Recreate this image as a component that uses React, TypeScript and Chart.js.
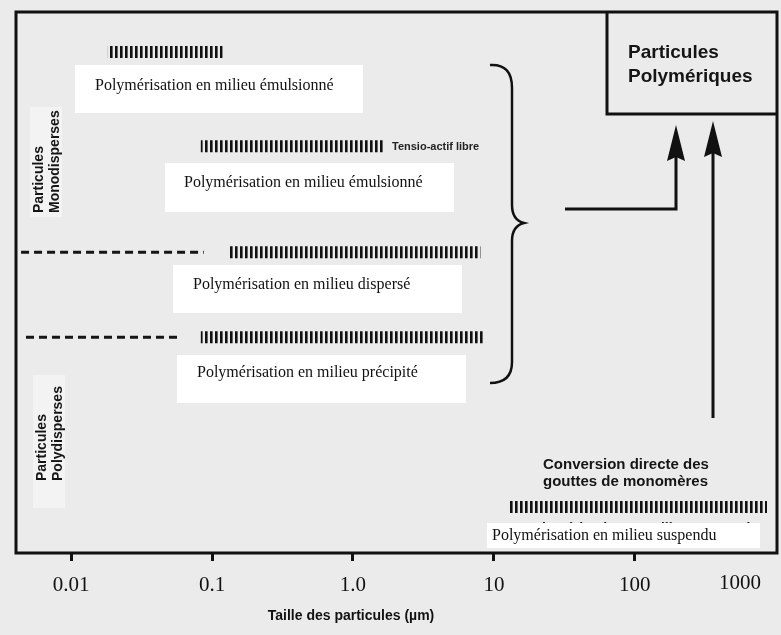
import { useEffect, useRef } from "react";
import { Chart, registerables } from "chart.js";

Chart.register(...registerables);

// ---- data ----
const SIZE_TICKS = [0.01, 0.1, 1, 10, 100];
const TICK_LABELS = ["0.01", "0.1", "1.0", "10", "100"];
const EXTRA_TICK_LABEL = "1000";
const AXIS_TITLE = "Taille des particules (µm)";

const METHODS = [
  "Polymérisation en milieu émulsionné",
  "Polymérisation en milieu émulsionné",
  "Polymérisation en milieu dispersé",
  "Polymérisation en milieu précipité",
  "Polymérisation en milieu suspendu",
];
// vertical level of each row (0 = bottom, 10 = top)
const ROW_LEVELS = [9.26, 7.52, 5.56, 3.99, 0.85];
// size ranges (µm), hatched bars
const RANGE_MIN = [0.0182, 0.0832, 0.133, 0.0832, 12.7];
const RANGE_MAX = [0.119, 1.65, 8.02, 8.43, 867];
// possible extension (dashed) for dispersé / précipité
const EXT_LEVELS = [5.56, 3.99];
const EXT_MIN = [0.00441, 0.00478];
const EXT_MAX = [0.0873, 0.06];

const X_MIN = 0.00406;
const X_MAX = 1021;

export default function App() {
  const ref = useRef<HTMLCanvasElement | null>(null);

  useEffect(() => {
    const canvas = ref.current;
    if (!canvas) return;

    const pc = document.createElement("canvas");
    pc.width = 5;
    pc.height = 4;
    const pctx = pc.getContext("2d")!;
    pctx.fillStyle = "#111";
    pctx.fillRect(0, 0, 2, 4);
    pctx.fillStyle = "rgba(17,17,17,0.6)";
    pctx.fillRect(2, 0, 1, 4);
    const hatch = canvas.getContext("2d")!.createPattern(pc, "repeat")!;

    const datasets: any[] = [];
    ROW_LEVELS.forEach((lv, i) => {
      datasets.push({
        label: METHODS[i],
        data: [
          { x: RANGE_MIN[i], y: lv },
          { x: RANGE_MAX[i], y: lv },
        ],
        showLine: true,
        borderColor: hatch,
        borderWidth: 12,
        borderCapStyle: "butt",
        pointRadius: 0,
      });
    });
    EXT_LEVELS.forEach((lv, i) => {
      datasets.push({
        label: "ext" + i,
        data: [
          { x: EXT_MIN[i], y: lv },
          { x: EXT_MAX[i], y: lv },
        ],
        showLine: true,
        borderColor: "#151515",
        borderWidth: 3,
        borderDash: [8, 5],
        borderCapStyle: "butt",
        pointRadius: 0,
      });
    });

    const SERIF = '"Liberation Serif", "Times New Roman", serif';
    const SANS = '"Liberation Sans", Arial, sans-serif';
    const TICK_PAD = 12;
    const TICK_LEN = 8;

    const decor = {
      id: "decor",
      beforeDraw(chart: any) {
        const ctx = chart.ctx;
        ctx.save();
        ctx.fillStyle = "#ebebeb";
        ctx.fillRect(0, 0, chart.width, chart.height);
        ctx.fillStyle = "#f3f3f3";
        ctx.fillRect(30, 107, 32, 110);
        ctx.fillRect(33, 375, 32, 133);
        ctx.restore();
      },
      afterDraw(chart: any) {
        const ctx = chart.ctx;
        const a = chart.chartArea;
        ctx.save();
        // ghost label partially hidden by the box
        ctx.fillStyle = "#222";
        ctx.font = `bold 14px ${SANS}`;
        ctx.textBaseline = "top";
        ctx.textAlign = "left";
        ctx.fillText("Polymérisation en milieu suspendu", 524, 522);

        // white boxes with method names
        const boxes = [
          [75, 65, 288, 48, 95, 86],
          [165, 163, 289, 49, 184, 183],
          [173, 265, 289, 48, 193, 285],
          [177, 355, 289, 48, 197, 373],
          [487, 523, 273, 25, 492, 536],
        ];
        boxes.forEach((b, i) => {
          ctx.fillStyle = "#ffffff";
          ctx.fillRect(b[0], b[1], b[2], b[3]);
          ctx.fillStyle = "#111";
          ctx.font = `16px ${SERIF}`;
          ctx.textBaseline = "middle";
          ctx.fillText(METHODS[i], b[4], b[5]);
        });

        // Tensio-actif libre
        ctx.font = `bold 11px ${SANS}`;
        ctx.fillStyle = "#222";
        ctx.fillText("Tensio-actif libre", 392, 147);

        // plot frame
        ctx.strokeStyle = "#111";
        ctx.lineWidth = 3;
        ctx.strokeRect(a.left, a.top, a.right - a.left, a.bottom - a.top);

        // Particules Polymériques box
        ctx.beginPath();
        ctx.moveTo(607, a.top);
        ctx.lineTo(607, 114);
        ctx.lineTo(a.right, 114);
        ctx.stroke();
        ctx.fillStyle = "#151515";
        ctx.font = `bold 19px ${SANS}`;
        ctx.fillText("Particules", 628, 53);
        ctx.fillText("Polymériques", 628, 77);

        // brace
        ctx.lineWidth = 2.5;
        ctx.beginPath();
        ctx.moveTo(490, 65);
        ctx.bezierCurveTo(505, 64, 512, 72, 512, 88);
        ctx.lineTo(512, 205);
        ctx.bezierCurveTo(512, 215, 516, 221, 524, 223);
        ctx.bezierCurveTo(516, 225, 512, 231, 512, 241);
        ctx.lineTo(512, 362);
        ctx.bezierCurveTo(512, 376, 505, 383, 490, 383);
        ctx.stroke();

        // arrows
        ctx.lineWidth = 3;
        ctx.beginPath();
        ctx.moveTo(565, 209);
        ctx.lineTo(676, 209);
        ctx.lineTo(676, 156);
        ctx.stroke();
        ctx.beginPath();
        ctx.moveTo(713, 418);
        ctx.lineTo(713, 152);
        ctx.stroke();
        ctx.fillStyle = "#111";
        const head = (x: number, tip: number, base: number) => {
          ctx.beginPath();
          ctx.moveTo(x, tip);
          ctx.lineTo(x + 9, base);
          ctx.lineTo(x, base - 4);
          ctx.lineTo(x - 9, base);
          ctx.closePath();
          ctx.fill();
        };
        head(676, 125, 161);
        head(713, 121, 157);

        // Conversion directe
        ctx.fillStyle = "#151515";
        ctx.font = `bold 15px ${SANS}`;
        ctx.fillText("Conversion directe des", 543, 465);
        ctx.fillText("gouttes de monomères", 543, 482);

        // vertical group labels
        ctx.font = `bold 14px ${SANS}`;
        ctx.textBaseline = "alphabetic";
        const vtext = (t: string, x: number, y: number) => {
          ctx.save();
          ctx.translate(x, y);
          ctx.rotate(-Math.PI / 2);
          ctx.fillText(t, 0, 0);
          ctx.restore();
        };
        vtext("Particules", 43, 213);
        vtext("Monodisperses", 59, 213);
        vtext("Particules", 46, 481);
        vtext("Polydisperses", 62, 481);

        // extra tick label and axis title
        ctx.fillStyle = "#111";
        ctx.font = `21px ${SERIF}`;
        ctx.textAlign = "center";
        ctx.textBaseline = "top";
        ctx.fillText(EXTRA_TICK_LABEL, 740, a.bottom + TICK_LEN + TICK_PAD);
        ctx.font = `bold 14px ${SANS}`;
        ctx.textBaseline = "middle";
        ctx.fillText(AXIS_TITLE, 351, 616);
        ctx.restore();
      },
    };

    const chart = new Chart(canvas, {
      type: "scatter",
      data: { datasets },
      options: {
        animation: false,
        responsive: false,
        devicePixelRatio: 1,
        layout: { padding: { left: 16, top: 12, right: 4, bottom: 0 } },
        plugins: { legend: { display: false }, tooltip: { enabled: false } },
        scales: {
          x: {
            type: "logarithmic",
            min: X_MIN,
            max: X_MAX,
            afterBuildTicks: (s: any) => {
              s.ticks = SIZE_TICKS.map((v) => ({ value: v }));
            },
            afterFit: (s: any) => {
              s.height = 82;
            },
            ticks: {
              autoSkip: false,
              maxRotation: 0,
              padding: TICK_PAD,
              color: "#111",
              font: { family: SERIF, size: 21 },
              callback: (_v: any, i: number) => TICK_LABELS[i],
            },
            grid: {
              drawOnChartArea: false,
              drawTicks: true,
              tickLength: TICK_LEN,
              color: "#111",
              lineWidth: 3,
            },
            border: { display: false },
          },
          y: { type: "linear", min: 0, max: 10, display: false },
        },
      },
      plugins: [decor],
    } as any);

    return () => chart.destroy();
  }, []);

  return (
    <div style={{ position: "fixed", left: 0, top: 0, width: 781, height: 635 }}>
      <canvas ref={ref} width={781} height={635} style={{ display: "block" }} />
    </div>
  );
}
